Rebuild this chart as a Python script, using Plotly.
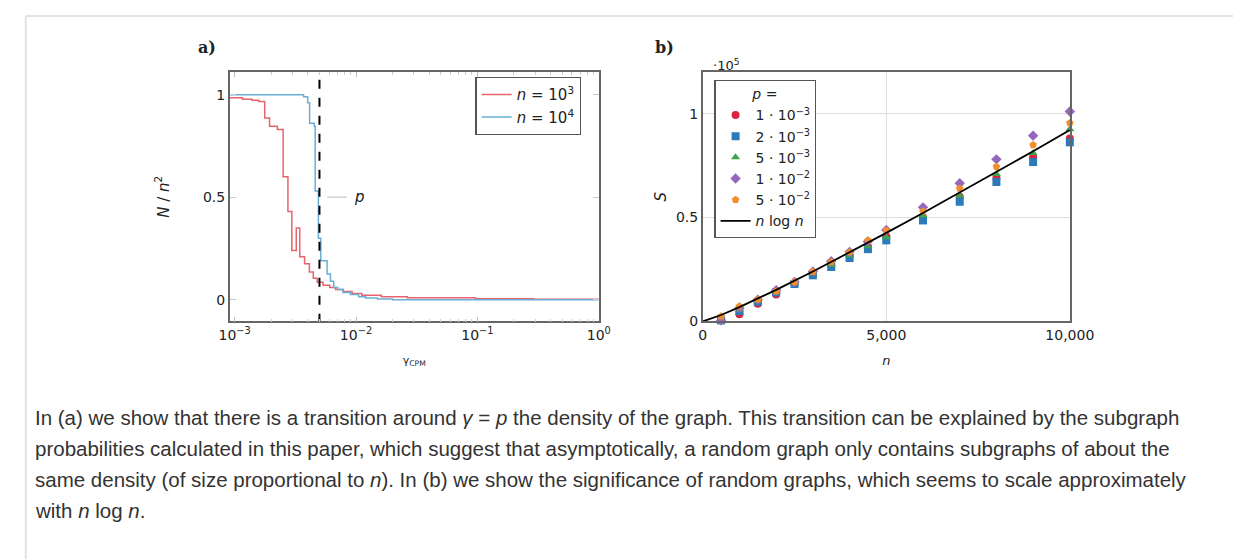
import plotly.graph_objects as go

# ---------------- data: panel a ----------------
gamma_n3 = [0.0009, 0.00116, 0.00139, 0.00158, 0.00177, 0.00194, 0.00225, 0.00251, 0.00275,
            0.00296, 0.00322, 0.00344, 0.00377, 0.00413, 0.00445, 0.00479, 0.00535, 0.00608,
            0.00679, 0.00787, 0.00929, 0.01117, 0.01614, 0.0265, 0.0964, 0.291, 1.0]
dens_n3 = [0.985, 0.978, 0.972, 0.966, 0.886, 0.846, 0.83, 0.60, 0.43,
           0.24, 0.35, 0.21, 0.175, 0.135, 0.105, 0.085, 0.07, 0.06,
           0.05, 0.04, 0.03, 0.022, 0.015, 0.01, 0.005, 0.002, 0.001]

gamma_n4 = [0.0009, 0.0037, 0.0040, 0.00415, 0.00453, 0.00461, 0.0049, 0.00513, 0.00578,
            0.00616, 0.00655, 0.00708, 0.0078, 0.009, 0.0105, 0.012, 0.015, 0.02, 1.0]
dens_n4 = [1.0, 0.99, 0.96, 0.86, 0.845, 0.53, 0.30, 0.19, 0.125,
           0.09, 0.06, 0.05, 0.035, 0.025, 0.015, 0.008, 0.003, 0.0, 0.0]

p_line = 0.005

# ---------------- data: panel b (units of 1e5) ----------------
n_vals = [500, 1000, 1500, 2000, 2500, 3000, 3500, 4000, 4500, 5000, 6000, 7000, 8000, 9000, 10000]
S_p1e3 = [0.01, 0.035, 0.085, 0.13, 0.18, 0.225, 0.27, 0.315, 0.36, 0.41, 0.50, 0.60, 0.69, 0.79, 0.88]
S_p2e3 = [0.005, 0.05, 0.095, 0.14, 0.18, 0.222, 0.262, 0.305, 0.348, 0.39, 0.486, 0.576, 0.671, 0.767, 0.862]
S_p5e3 = [0.0, 0.055, 0.10, 0.145, 0.185, 0.23, 0.272, 0.318, 0.362, 0.405, 0.51, 0.605, 0.71, 0.81, 0.925]
S_p1e2 = [0.005, 0.065, 0.105, 0.15, 0.19, 0.24, 0.29, 0.335, 0.385, 0.44, 0.549, 0.665, 0.78, 0.894, 1.01]
S_p5e2 = [0.025, 0.073, 0.105, 0.145, 0.19, 0.24, 0.286, 0.333, 0.39, 0.438, 0.53, 0.64, 0.744, 0.849, 0.955]

nlogn_n = [0, 500, 1000, 2000, 3000, 4000, 5000, 6000, 7000, 8000, 9000, 10000]
nlogn_S = [0, 0.031, 0.069, 0.152, 0.240, 0.332, 0.426, 0.522, 0.620, 0.719, 0.819, 0.921]

series_b = [
    ("1 · 10<sup>−3</sup>", S_p1e3, "#d7263d", "circle"),
    ("2 · 10<sup>−3</sup>", S_p2e3, "#2b7bba", "square"),
    ("5 · 10<sup>−3</sup>", S_p5e3, "#3fa34d", "triangle-up"),
    ("1 · 10<sup>−2</sup>", S_p1e2, "#9467bd", "diamond"),
    ("5 · 10<sup>−2</sup>", S_p5e2, "#f28e2b", "pentagon"),
]

caption = [
    "In (a) we show that there is a transition around <i>γ</i> = <i>p</i> the density of the graph. This transition can be explained by the subgraph",
    "probabilities calculated in this paper, which suggest that asymptotically, a random graph only contains subgraphs of about the",
    "same density (of size proportional to <i>n</i>). In (b) we show the significance of random graphs, which seems to scale approximately",
    "with <i>n</i> log <i>n</i>.",
]

W, H = 1250, 559
def px(x):
    return x / W
def py(y):
    return 1 - y / H

FONT = "DejaVu Sans"
AX = "#666666"

fig = go.Figure()

fig.add_trace(go.Scatter(x=gamma_n3, y=dens_n3, mode="lines", line=dict(color="#e8636d", width=1.5, shape="hv"),
                         name="<i>n</i> = 10<sup>3</sup>", xaxis="x", yaxis="y", legend="legend"))
fig.add_trace(go.Scatter(x=gamma_n4, y=dens_n4, mode="lines", line=dict(color="#6aaed6", width=1.5, shape="hv"),
                         name="<i>n</i> = 10<sup>4</sup>", xaxis="x", yaxis="y", legend="legend"))
fig.add_trace(go.Scatter(x=[p_line, p_line], y=[-0.2, 1.2], mode="lines",
                         line=dict(color="black", width=2, dash="dash"), showlegend=False,
                         xaxis="x", yaxis="y", hoverinfo="skip"))

for name, vals, col, sym in series_b:
    fig.add_trace(go.Scatter(x=n_vals, y=vals, mode="markers", name=name,
                             marker=dict(color=col, symbol=sym, size=8, line=dict(width=0)),
                             xaxis="x2", yaxis="y2", legend="legend2", cliponaxis=False))
fig.add_trace(go.Scatter(x=nlogn_n, y=nlogn_S, mode="lines", name="<i>n</i> log <i>n</i>",
                         line=dict(color="black", width=1.8), xaxis="x2", yaxis="y2", legend="legend2"))

x_a = [px(217), px(597)]
x_b = [px(704), px(1082)]
y_dom = [py(318), py(65)]

common = dict(showline=True, linecolor=AX, linewidth=1.5, zeroline=False,
              tickfont=dict(family=FONT, size=14, color="#222"))

fig.update_layout(
    width=W, height=H, margin=dict(l=0, r=0, t=0, b=0),
    paper_bgcolor="white", plot_bgcolor="white",
    font=dict(family=FONT, color="#222"),
    xaxis=dict(domain=x_a, type="log", range=[-3.04, 0], anchor="y", mirror="allticks",
               tickvals=[0.001, 0.01, 0.1, 1],
               ticktext=["10<sup>−3</sup>", "10<sup>−2</sup>", "10<sup>−1</sup>", "10<sup>0</sup>"],
               ticks="inside", ticklen=5, tickcolor="#bbbbbb", showgrid=False,
               minor=dict(ticks="inside", ticklen=3, tickcolor="#cccccc", showgrid=False, dtick="D1"),
               title=dict(text="γ<sub>CPM</sub>", font=dict(family=FONT, size=11, color="#222"), standoff=14),
               **common),
    yaxis=dict(domain=y_dom, range=[-0.106, 1.11], anchor="x", tickvals=[0, 0.5, 1], mirror="allticks",
               ticktext=["0", "0.5", "1"], ticks="inside", ticklen=6, tickcolor="#cccccc", showgrid=False,
               title=dict(text="<i>N</i> / <i>n</i><sup>2</sup>", font=dict(family=FONT, size=15, color="#222"), standoff=30),
               **common),
    xaxis2=dict(domain=x_b, range=[0, 10000], anchor="y2", tickvals=[0, 5000, 10000], mirror=True,
                ticktext=["0", "5,000", "10,000"], ticks="", showgrid=True, gridcolor="#dddddd", gridwidth=1,
                title=dict(text="<i>n</i>", font=dict(family=FONT, size=13, color="#222"), standoff=14),
                **common),
    yaxis2=dict(domain=y_dom, range=[0, 1.2], anchor="x2", tickvals=[0, 0.5, 1], mirror=True,
                ticktext=["0", "0.5", "1"], ticks="", showgrid=True, gridcolor="#dddddd", gridwidth=1,
                title=dict(text="<i>S</i>", font=dict(family=FONT, size=15, color="#222"), standoff=6),
                **common),
    legend=dict(x=px(470), y=py(70), xanchor="left", yanchor="top", bgcolor="white",
                bordercolor="#555", borderwidth=1.2, font=dict(family=FONT, size=15, color="#222"),
                tracegroupgap=0, itemwidth=30),
    legend2=dict(x=px(716), y=py(73), xanchor="left", yanchor="top", bgcolor="white",
                 bordercolor="#555", borderwidth=1.2, font=dict(family=FONT, size=14, color="#222"),
                 title=dict(text="<i>p</i> =", side="top center", font=dict(family=FONT, size=14)),
                 tracegroupgap=0, itemwidth=30),
    showlegend=True,
)

shapes = [
    dict(type="line", xref="paper", yref="paper", x0=px(7), x1=1, y0=py(8), y1=py(8),
         line=dict(color="#e3e3e3", width=2)),
    dict(type="line", xref="paper", yref="paper", x0=px(7), x1=px(7), y0=py(8), y1=0,
         line=dict(color="#e3e3e3", width=2)),
    dict(type="line", xref="x", yref="y", x0=0.0058, x1=0.0084, y0=0.5, y1=0.5,
         line=dict(color="#bbbbbb", width=1)),
]
fig.update_layout(shapes=shapes)

ann = [
    dict(text="<b>a)</b>", x=px(182), y=py(28), xref="paper", yref="paper", showarrow=False,
         font=dict(family="DejaVu Serif", size=16, color="#222")),
    dict(text="<b>b)</b>", x=px(665), y=py(28), xref="paper", yref="paper", showarrow=False,
         font=dict(family="DejaVu Serif", size=16, color="#222")),
    dict(text="·10<sup>5</sup>", x=px(728), y=py(48), xref="paper", yref="paper", showarrow=False,
         font=dict(family=FONT, size=13, color="#222")),
    dict(text="<i>p</i>", x=-2.035, y=0.5, xref="x", yref="y", showarrow=False, xanchor="left",
         font=dict(family=FONT, size=15, color="#222")),
]
line_y = [415, 447, 478, 510]
for t, yy in zip(caption, line_y):
    ann.append(dict(text=t, x=px(14), y=py(yy), xref="paper", yref="paper", showarrow=False,
                    xanchor="left", yanchor="middle", align="left",
                    font=dict(family="Liberation Sans", size=20.5, color="#333")))
fig.update_layout(annotations=ann)

fig.write_html("out.html")
